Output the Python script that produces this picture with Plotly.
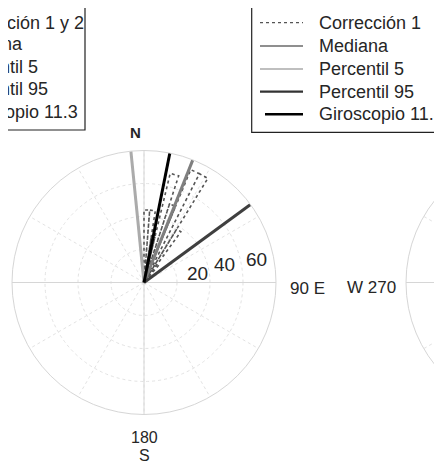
import plotly.graph_objects as go

# ---------------- data ----------------
# Rose histogram ("Corrección 1"): bin start angles (deg, clockwise from N) and counts
rose_bin_width = 4.5
rose_bin_start = [355.5, 0.0, 4.5, 9.0, 13.5, 18.0, 22.5, 27.0, 31.5, 36.0]
rose_counts = [10, 44, 44, 28, 68, 50, 74, 74, 38, 14]

# Reference directions (deg)
stat_names = ["Mediana", "Percentil 5", "Percentil 95", "Giroscopio 11.3"]
stat_angles = [21.7, 354.3, 53.8, 11.3]
stat_colors = ["#7f7f7f", "#ababab", "#3f3f3f", "#000000"]
stat_widths = [3, 3, 3, 3]

r_max = 80
radial_ticks = [20, 40, 60]

legend_labels = ["Corrección 1", "Mediana", "Percentil 5", "Percentil 95", "Giroscopio 11.3"]
legend_colors = ["#555555", "#6a6a6a", "#aaaaaa", "#333333", "#000000"]
legend_widths = [1.2, 1.5, 1.5, 2.2, 2.6]
legend_dashes = ["dot", "solid", "solid", "solid", "solid"]
left_legend_labels = ["Corrección 1 y 2", "Mediana", "Percentil 5", "Percentil 95", "Giroscopio 11.3"]

OFF = 8  # default page body margin
W, H = 442 - OFF, 461 - OFF
FONT = "Liberation Sans, Arial, sans-serif"


def px(x):
    return (x - OFF) / W


def py(y):
    return 1 - (y - OFF) / H


# rose polygon, MATLAB-style: 0 -> (c, a1) -> (c, a2) -> 0 per bin
rose_theta, rose_r = [], []
for s, c in zip(rose_bin_start, rose_counts):
    rose_theta += [s, s, s + rose_bin_width, s + rose_bin_width]
    rose_r += [0, c, c, 0]

fig = go.Figure()

# solid N-S and E-W axis lines
for a, b in [(0, 180), (90, 270)]:
    fig.add_trace(go.Scatterpolar(r=[r_max, r_max], theta=[a, b], mode="lines",
                                  line=dict(color="#d6d6d6", width=1),
                                  showlegend=False, hoverinfo="skip"))

fig.add_trace(go.Scatterpolar(r=rose_r, theta=rose_theta, mode="lines",
                              name="Corrección 1",
                              line=dict(color="#555555", width=1.6, dash="dot")))

for n, a, c, w in zip(stat_names, stat_angles, stat_colors, stat_widths):
    fig.add_trace(go.Scatterpolar(r=[0, r_max], theta=[a, a], mode="lines", name=n,
                                  line=dict(color=c, width=w)))

annotations = []
# angular labels
annotations.append(dict(x=px(135), y=py(132), text="<b>N</b>", font=dict(size=15)))
annotations.append(dict(x=px(307), y=py(288), text="90 E", font=dict(size=17)))
annotations.append(dict(x=px(144), y=py(437), text="180", font=dict(size=16)))
annotations.append(dict(x=px(144), y=py(455), text="S", font=dict(size=16)))
annotations.append(dict(x=px(371), y=py(287), text="W 270", font=dict(size=17)))
# radial labels
for t, (x, y) in zip(radial_ticks, [(197, 273), (224, 264), (256, 259)]):
    annotations.append(dict(x=px(x), y=py(y), text=str(t), font=dict(size=19)))
# left (cut-off) legend of the neighbouring chart
row_y_left = [22.7, 44.3, 66.7, 89.3, 111.7]
for lab, yy in zip(left_legend_labels, row_y_left):
    annotations.append(dict(x=px(-49), y=py(yy), text=lab, xanchor="left", font=dict(size=18)))
# right legend (this chart)
row_y_right = [22.7, 46.0, 69.0, 91.7, 114.3]
for lab, yy in zip(legend_labels, row_y_right):
    annotations.append(dict(x=px(317), y=py(yy), text=lab, xanchor="left", font=dict(size=18)))
for a in annotations:
    a.setdefault("xref", "paper")
    a.setdefault("yref", "paper")
    a.setdefault("showarrow", False)
    a.setdefault("xanchor", "center")
    a.setdefault("yanchor", "middle")
    a["font"].update(family=FONT, color="#262626")

shapes = [
    # left legend box (cut off)
    dict(type="rect", xref="paper", yref="paper", x0=px(-200), x1=px(85), y0=py(130), y1=py(5),
         line=dict(color="#222222", width=1.2)),
    # right legend box
    dict(type="rect", xref="paper", yref="paper", x0=px(251.7), x1=px(600), y0=py(132.3), y1=py(7.3),
         line=dict(color="#222222", width=1.2)),
    # neighbouring polar chart (mostly off-canvas)
    dict(type="circle", xref="paper", yref="paper", x0=px(406), x1=px(670), y0=py(414.5), y1=py(150.5),
         line=dict(color="#d6d6d6", width=1)),
    dict(type="circle", xref="paper", yref="paper", x0=px(439), x1=px(637), y0=py(381.5), y1=py(183.5),
         line=dict(color="#e3e3e3", width=1, dash="dot")),
    dict(type="line", xref="paper", yref="paper", x0=px(406), x1=px(460), y0=py(282.5), y1=py(282.5),
         line=dict(color="#d6d6d6", width=1)),
    dict(type="line", xref="paper", yref="paper", x0=px(424), x1=px(460), y0=py(348.5), y1=py(327.7),
         line=dict(color="#e3e3e3", width=1, dash="dot")),
    dict(type="line", xref="paper", yref="paper", x0=px(424), x1=px(460), y0=py(216.5), y1=py(237.3),
         line=dict(color="#e3e3e3", width=1, dash="dot")),
]
# right legend line samples
for yy, c, w, d in zip(row_y_right, legend_colors, legend_widths, legend_dashes):
    x_start = 265 if w > 2.4 else 260
    shapes.append(dict(type="line", xref="paper", yref="paper", x0=px(x_start), x1=px(303),
                       y0=py(yy), y1=py(yy), line=dict(color=c, width=w, dash=d)))

fig.update_layout(
    width=W, height=H,
    margin=dict(l=0, r=0, t=0, b=0, autoexpand=False),
    paper_bgcolor="white",
    font=dict(family=FONT, color="#262626"),
    showlegend=False,
    polar=dict(
        domain=dict(x=[px(12), px(276)], y=[py(414.5), py(150.5)]),
        bgcolor="white",
        angularaxis=dict(rotation=90, direction="clockwise", dtick=30,
                         showticklabels=False, ticks="",
                         showgrid=True, gridcolor="#e3e3e3", griddash="dot",
                         showline=True, linecolor="#d6d6d6", linewidth=1),
        radialaxis=dict(range=[0, r_max], tickvals=radial_ticks, showticklabels=False,
                        ticks="", showline=False, showgrid=True,
                        gridcolor="#e3e3e3", griddash="dot"),
    ),
    annotations=annotations,
    shapes=shapes,
)

fig.write_html("out.html")
